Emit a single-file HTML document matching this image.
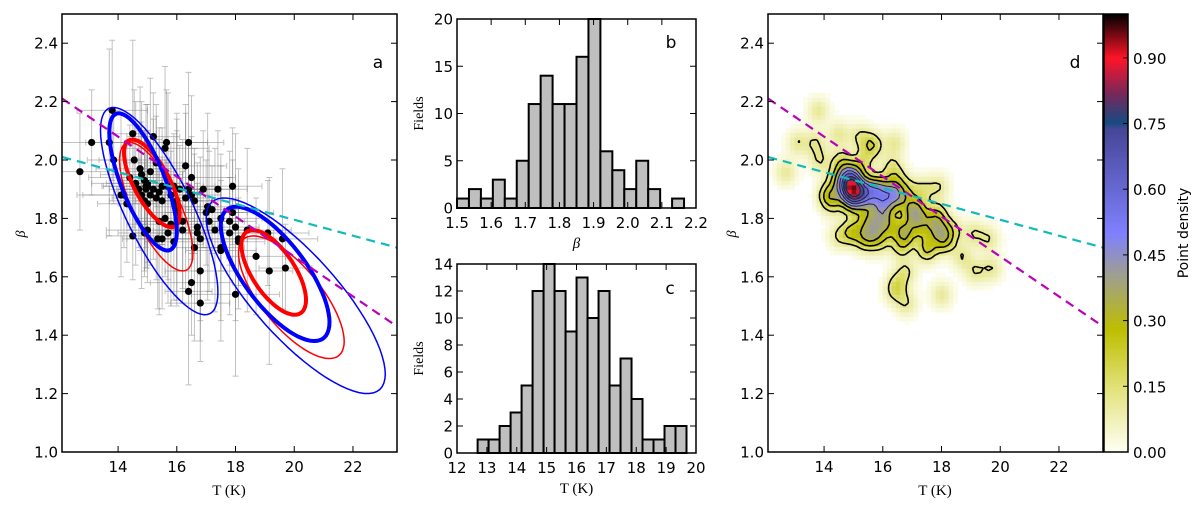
<!DOCTYPE html>
<html><head><meta charset="utf-8"><style>
html,body{margin:0;padding:0;background:#fff;width:1200px;height:506px;overflow:hidden}
svg text{font-family:"DejaVu Sans","Liberation Sans",sans-serif}
.ser{font-family:"Liberation Serif","DejaVu Serif",serif}
</style></head><body>
<svg id="fig" width="1200" height="506" xmlns="http://www.w3.org/2000/svg"></svg>
<script>
// ---- data ----
const ptsT=[12.7,13.1,13.7,13.8,13.85,14.1,14.3,14.4,14.5,14.55,14.5,14.6,14.7,14.8,14.8,14.9,14.9,15.0,15.0,15.0,15.1,15.2,15.2,15.3,15.3,15.4,15.4,15.5,15.5,15.6,15.6,15.65,15.7,15.7,15.8,15.8,15.9,15.9,16.0,16.0,16.1,16.2,16.2,16.3,16.3,16.4,16.4,16.5,16.5,16.6,16.6,16.7,16.7,16.8,16.9,17.0,17.05,17.1,17.2,17.3,17.4,17.5,17.5,17.5,17.8,17.8,17.9,17.9,18.0,18.1,18.1,18.4,18.7,19.1,19.15,19.6,19.7,18.0,16.8,16.5,16.4,16.8,15.1,14.75,15.5,14.2,16.0,15.35,14.9,14.95,14.95,15.0];
const ptsB=[1.96,2.06,2.06,2.17,2.0,1.88,1.85,1.94,2.09,2.0,1.74,1.92,1.9,1.95,1.88,1.86,1.93,1.91,1.85,1.76,1.96,1.9,2.08,1.87,1.99,1.89,1.79,1.73,1.86,2.04,1.8,2.06,1.91,1.75,1.88,1.78,1.72,1.91,1.82,1.86,1.9,1.79,1.76,1.98,1.87,2.06,1.9,1.94,1.88,1.86,1.7,1.75,1.77,1.73,1.9,1.82,1.84,1.79,1.83,1.76,1.9,1.8,1.7,1.69,1.79,1.75,1.91,1.82,1.77,1.73,1.72,1.76,1.67,1.75,1.62,1.73,1.63,1.54,1.51,1.58,1.55,1.62,1.88,1.97,1.91,1.88,1.84,1.73,1.75,1.91,1.90,1.92];
const errT=[1.0,1.4,0.8,1.2,0.9,1.5];
const errB=[0.2,0.28,0.15,0.24,0.32,0.18];
// ellipses: [centerT, centerB, halfT, halfB, rho, color, width]
const ellCT=[15.15,15.3,14.85,15.4,19.3,19.9,19.35,20.05];
const ellCB=[1.92,1.84,1.925,1.825,1.615,1.53,1.61,1.535];
const ellA=[0.95,1.25,1.15,2.0,1.1,1.8,1.85,3.05];
const ellB=[0.15,0.22,0.235,0.355,0.145,0.21,0.23,0.335];
const ellRho=[-0.7,-0.72,-0.72,-0.78,-0.65,-0.72,-0.72,-0.8];
const ellCol=['#f00','#f00','#00f','#00f','#f00','#f00','#00f','#00f'];
const ellW=[4,1.5,4,1.5,4,1.5,4,1.5];
const fitMag=[2.21,1.43]; // beta at T=12.1 and T=23.5
const fitCyan=[2.01,1.70];
const histBCounts=[1,2,1,3,1,5,11,14,11,11,16,20,6,4,2,5,2,0,1,0];
const histBStart=1.5, histBWidth=0.035;
const histCCounts=[1,1,2,3,5,12,14,12,9,13,10,12,5,7,4,1,1,2,2];
const histCStart=12.69, histCWidth=0.368;
const cbTicks=[0,0.15,0.30,0.45,0.60,0.75,0.90];

const NS='http://www.w3.org/2000/svg', svg=document.getElementById('fig');
function el(tag,attrs,parent,txt){const e=document.createElementNS(NS,tag);for(const k in attrs)e.setAttribute(k,attrs[k]);if(txt!==undefined)e.textContent=txt;(parent||svg).appendChild(e);return e;}
function lin(d0,d1,p0,p1){return v=>p0+(v-d0)/(d1-d0)*(p1-p0);}

function axesFrame(g,x0,y0,x1,y1,sx,sy,xt,yt,xf,yf,mirrorX,mirrorY){
  const fr=el('rect',{x:x0,y:y0,width:x1-x0,height:y1-y0,fill:'none',stroke:'#000','stroke-width':1.5},g);
  
  xt.forEach(v=>{const x=sx(v);
    el('line',{x1:x,y1:y1,x2:x,y2:y1-6,stroke:'#000'},g);
    if(mirrorX)el('line',{x1:x,y1:y0,x2:x,y2:y0+6,stroke:'#000'},g);
    const t=el('text',{x:x,y:y1+20,'text-anchor':'middle','font-size':15},g,xf(v));
    });
  yt.forEach(v=>{const y=sy(v);
    el('line',{x1:x0,y1:y,x2:x0+6,y2:y,stroke:'#000'},g);
    if(mirrorY)el('line',{x1:x1,y1:y,x2:x1-6,y2:y,stroke:'#000'},g);
    const t=el('text',{x:x0-4,y:y+5.5,'text-anchor':'end','font-size':15},g,yf(v));
    });
}
function range(a,b,s){const r=[];for(let v=a;v<=b+1e-9;v+=s)r.push(+v.toFixed(4));return r;}
function dashLine(g,sx,sy,b,col,name){const l=el('line',{x1:sx(12.1),y1:sy(b[0]),x2:sx(23.5),y2:sy(b[1]),stroke:col,'stroke-width':2.2,'stroke-dasharray':'9,6'},g);
  }

// ===== Panel a =====
(function(){
  const g=el('g',{});
  const x0=62,x1=397,y0=14,y1=452;
  const sx=lin(12.09,23.5,x0,x1), sy=lin(1.0,2.5,y1,y0);
  const cp=el('clipPath',{id:'ca'},g);el('rect',{x:x0,y:y0,width:x1-x0,height:y1-y0},cp);
  const inner=el('g',{'clip-path':'url(#ca)'},g);
  ptsT.forEach((T,i)=>{const eT=errT[i%errT.length],eB=errB[(i*5)%errB.length];
    const x=sx(T),y=sy(ptsB[i]);
    const e=el('path',{d:`M${sx(T-eT)},${y}H${sx(T+eT)}M${x},${sy(ptsB[i]-eB)}V${sy(ptsB[i]+eB)}M${sx(T-eT)},${y-3}v6M${sx(T+eT)},${y-3}v6M${x-3},${sy(ptsB[i]-eB)}h6M${x-3},${sy(ptsB[i]+eB)}h6`,stroke:'#777','stroke-opacity':0.45,'stroke-width':1,fill:'none'},inner);
    });
  ptsT.forEach((T,i)=>{const c=el('circle',{cx:sx(T),cy:sy(ptsB[i]),r:3.6,fill:'#000'},inner);
    });
  ellCT.forEach((cx,i)=>{let d='';const r=ellRho[i],s=Math.sqrt(1-r*r);
    for(let k=0;k<=72;k++){const t=k/72*2*Math.PI;const T=cx+ellA[i]*Math.cos(t);const B=ellCB[i]+ellB[i]*(r*Math.cos(t)+s*Math.sin(t));
      d+=(k?'L':'M')+sx(T).toFixed(1)+','+sy(B).toFixed(1);}
    const p=el('path',{d:d+'Z',fill:'none',stroke:ellCol[i],'stroke-width':ellW[i]},inner);
    });
  dashLine(inner,sx,sy,fitMag,'#b0b','magenta-fit-line');
  dashLine(inner,sx,sy,fitCyan,'#1bb','cyan-fit-line');
  axesFrame(g,x0,y0,x1,y1,sx,sy,range(14,22,2),range(1.0,2.4,0.2),v=>v,v=>v.toFixed(1),true,true);
  const L=el('text',{x:378,y:68,'font-size':17,'text-anchor':'middle'},g,'a');
  const xl=el('text',{x:229,y:495,'font-size':15,'text-anchor':'middle',class:'ser'},g,'T (K)');
  const yl=el('text',{x:0,y:0,'font-size':14,'text-anchor':'middle',class:'ser','font-style':'italic',transform:'translate(25,234) rotate(-90)'},g,'β');
})();

// ===== Histograms =====
function hist(name,x0,x1,y0,y1,xmin,xmax,ymax,counts,start,w,xt,yt,xf,xlabel,lbl,lx,ly,xlItalic){
  const g=el('g',{});
  const sx=lin(xmin,xmax,x0,x1), sy=lin(0,ymax,y1,y0);
  counts.forEach((c,i)=>{if(!c)return;const a=start+i*w;
    const r=el('rect',{x:sx(a),y:sy(c),width:sx(a+w)-sx(a),height:sy(0)-sy(c),fill:'#bfbfbf',stroke:'#000','stroke-width':2},g);
    });
  axesFrame(g,x0,y0,x1,y1,sx,sy,xt,yt,xf,v=>v,true,true);
  const L=el('text',{x:lx,y:ly,'font-size':17,'text-anchor':'middle'},g,lbl);
  const xl=el('text',{x:(x0+x1)/2,y:y1+40,'font-size':15,'text-anchor':'middle',class:'ser','font-style':xlItalic?'italic':'normal'},g,xlabel);
  const yl=el('text',{x:0,y:0,'font-size':14,'text-anchor':'middle',class:'ser',transform:`translate(423,${(y0+y1)/2}) rotate(-90)`},g,'Fields');
}
hist('panel-b',457,696,19,208,1.5,2.2,20,histBCounts,histBStart,histBWidth,range(1.5,2.2,0.1),range(0,20,5),v=>v.toFixed(1),'β','b',671,48,true);
hist('panel-c',457,696,264,453,12,20,14,histCCounts,histCStart,histCWidth,range(12,20,1),range(0,14,2),v=>v,'T (K)','c',670,294,false);

// ===== Panel d =====
function cmap(v){const st=[[0,[255,255,245]],[0.15,[225,225,120]],[0.28,[190,190,0]],[0.40,[160,160,140]],[0.5,[128,128,255]],[0.74,[70,70,150]],[0.75,[20,75,130]],[0.82,[120,40,90]],[0.9,[255,20,40]],[1,[0,0,0]]];
  v=Math.max(0,Math.min(1,v));for(let i=1;i<st.length;i++){if(v<=st[i][0]){const a=st[i-1],b=st[i],f=(v-a[0])/(b[0]-a[0]||1);
    return 'rgb('+a[1].map((c,k)=>Math.round(c+(b[1][k]-c)*f)).join(',')+')';}}return 'rgb(0,0,0)';}
(function(){
  const g=el('g',{});
  const x0=768,x1=1103,y0=14,y1=452;
  const sx=lin(12.09,23.5,x0,x1), sy=lin(1.0,2.5,y1,y0);
  const cp=el('clipPath',{id:'cd'},g);el('rect',{x:x0,y:y0,width:x1-x0,height:y1-y0},cp);
  const inner=el('g',{'clip-path':'url(#cd)'},g);
  const nx=76,ny=100,T0=12.09,T1=23.5,B0=1.0,B1=2.5,dT=(T1-T0)/nx,dB=(B1-B0)/ny,sT=0.24,sB=0.03;
  const D=[];let mx=0;
  for(let j=0;j<=ny;j++){D[j]=[];for(let i=0;i<=nx;i++){const T=T0+i*dT,B=B0+j*dB;let s=0;
    for(let k=0;k<ptsT.length;k++){const a=(T-ptsT[k])/sT,b=(B-ptsB[k])/sB;const q=a*a+b*b;if(q<25)s+=Math.exp(-q/2);}
    D[j][i]=s;if(s>mx)mx=s;}}
  for(let j=0;j<=ny;j++)for(let i=0;i<=nx;i++)D[j][i]/=mx;
  const hm=el('g',{},inner);
  for(let j=0;j<ny;j++)for(let i=0;i<nx;i++){const v=(D[j][i]+D[j][i+1]+D[j+1][i]+D[j+1][i+1])/4;if(v<0.01)continue;
    const x=sx(T0+i*dT),y=sy(B0+(j+1)*dB);
    el('rect',{x:x.toFixed(2),y:y.toFixed(2),width:(sx(T0+dT)-sx(T0)+0.6).toFixed(2),height:(sy(B0)-sy(B0+dB)+0.6).toFixed(2),fill:cmap(v)},hm);}
  const levels=[0.12,0.22,0.32,0.42,0.52,0.62,0.72,0.82];
  const cg=el('g',{},inner);
  levels.forEach((L,li)=>{let d='';
    for(let j=0;j<ny;j++)for(let i=0;i<nx;i++){
      const v=[D[j][i],D[j][i+1],D[j+1][i+1],D[j+1][i]];
      const P=[[i,j],[i+1,j],[i+1,j+1],[i,j+1]];const pts=[];
      for(let e=0;e<4;e++){const a=v[e],b=v[(e+1)%4];if((a<L)!==(b<L)){const f=(L-a)/(b-a);const p=P[e],q=P[(e+1)%4];
        pts.push([p[0]+(q[0]-p[0])*f,p[1]+(q[1]-p[1])*f]);}}
      for(let k=0;k+1<pts.length;k+=2){const A=pts[k],Bp=pts[k+1];
        d+=`M${sx(T0+A[0]*dT).toFixed(1)},${sy(B0+A[1]*dB).toFixed(1)}L${sx(T0+Bp[0]*dT).toFixed(1)},${sy(B0+Bp[1]*dB).toFixed(1)}`;}}
    el('path',{d:d,stroke:li<3?'#000':'#223','stroke-width':li<3?1.6:1,fill:'none'},cg);});
  dashLine(inner,sx,sy,fitMag,'#b0b','magenta-fit-line');
  dashLine(inner,sx,sy,fitCyan,'#1bb','cyan-fit-line');
  axesFrame(g,x0,y0,x1,y1,sx,sy,range(14,22,2),range(1.0,2.4,0.2),v=>v,v=>v.toFixed(1),true,true);
  const L=el('text',{x:1075,y:68,'font-size':17,'text-anchor':'middle'},g,'d');
  const xl=el('text',{x:935,y:495,'font-size':15,'text-anchor':'middle',class:'ser'},g,'T (K)');
  const yl=el('text',{x:0,y:0,'font-size':14,'text-anchor':'middle',class:'ser','font-style':'italic',transform:'translate(736,234) rotate(-90)'},g,'β');
  const cb=el('g',{});
  const cx0=1104,cx1=1128,cy0=14,cy1=452,cs=lin(0,1,cy1,cy0);
  for(let k=0;k<200;k++){const v=k/200;el('rect',{x:cx0,y:cs(v+0.005).toFixed(2),width:cx1-cx0,height:(cs(0)-cs(0.005)+0.5).toFixed(2),fill:cmap(v+0.0025)},cb);}
  el('rect',{x:cx0,y:cy0,width:cx1-cx0,height:cy1-cy0,fill:'none',stroke:'#000','stroke-width':1.5},cb);
  cbTicks.forEach(v=>{const y=cs(v);el('line',{x1:cx1,y1:y,x2:cx1-5,y2:y,stroke:'#000'},cb);
    const t=el('text',{x:1133,y:y+6,'font-size':15},cb,v.toFixed(2));});
  const cl=el('text',{x:0,y:0,'font-size':14,'text-anchor':'middle',transform:'translate(1188,233) rotate(-90)'},cb,'Point density');
})();
</script>
</body></html>
